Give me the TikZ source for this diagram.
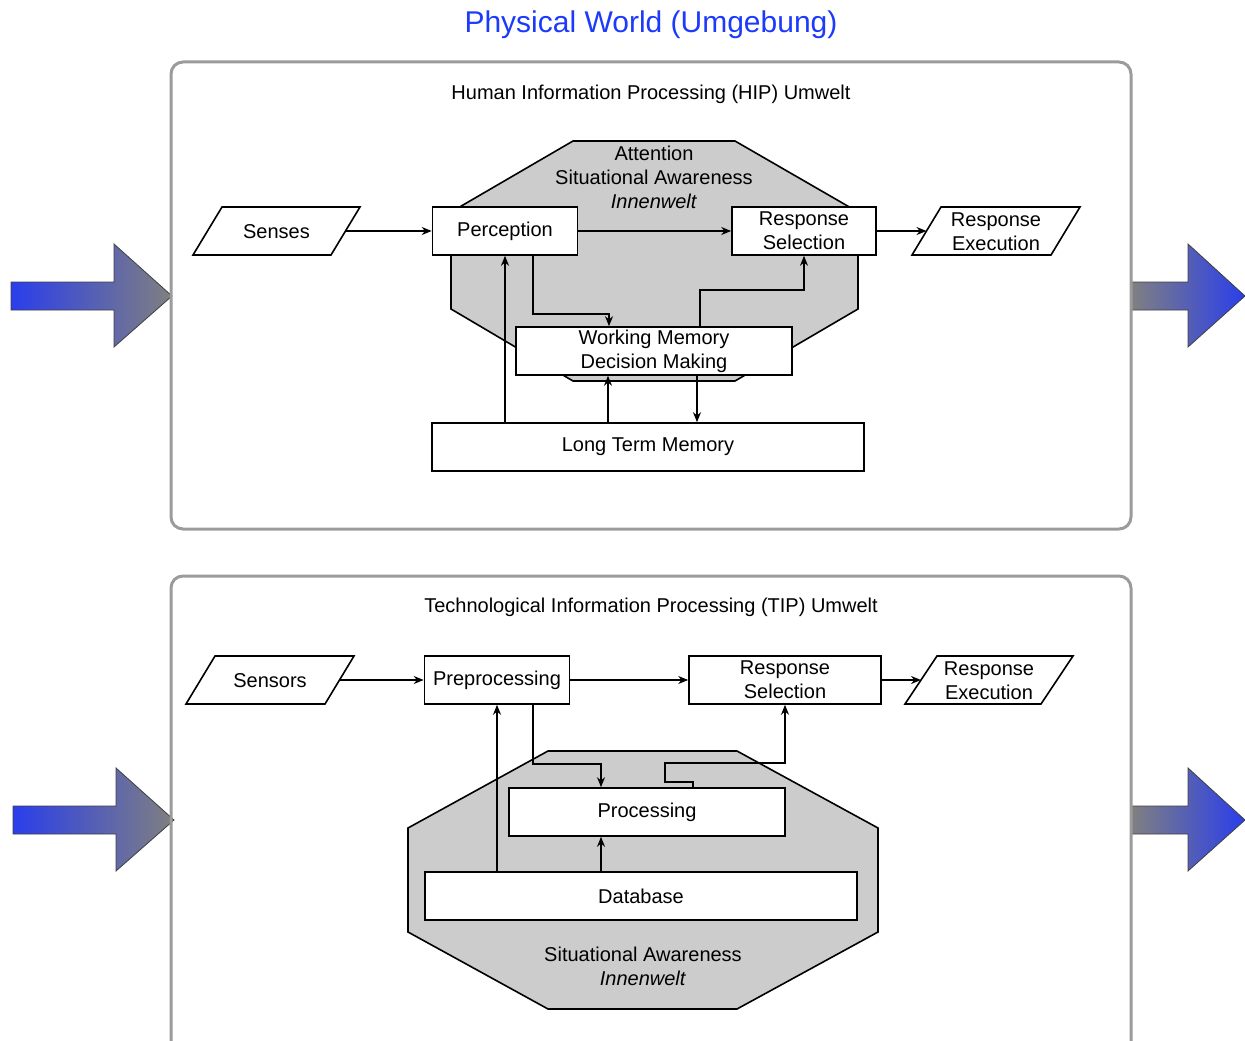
\documentclass[tikz,border=0pt]{standalone}
\usepackage{fontspec}
\setmainfont{Liberation Sans}
\usetikzlibrary{arrows.meta}
\definecolor{titleblue}{RGB}{28,58,250}
\definecolor{framegray}{RGB}{155,155,155}
\definecolor{octgray}{RGB}{204,204,204}
\definecolor{arrowblue}{RGB}{42,62,235}
\definecolor{arrowgray}{RGB}{128,128,128}
\begin{document}
\begin{tikzpicture}[x=1pt,y=-1pt,
  txt/.style={font=\fontsize{20}{24}\selectfont, align=center, inner sep=0pt},
  box/.style={txt, draw=black, line width=1.6pt, fill=white},
  conn/.style={line width=1.6pt, -{Stealth[length=10pt,width=8pt]}},
  frame/.style={draw=framegray, line width=3pt, rounded corners=12pt},
  oct/.style={draw=black, line width=1.6pt, fill=octgray},
  para/.style={draw=black, line width=1.6pt, fill=white},
  bigarrow/.style={draw=black!75, line width=0.8pt}]
\useasboundingbox (0,0) rectangle (1245,1041);
\clip (0,0) rectangle (1245,1041);

% big block arrows
\shadedraw[bigarrow, left color=arrowblue, right color=arrowgray]
  (11,282) -- (114,282) -- (114,244) -- (172,296) -- (114,347) -- (114,310) -- (11,310) -- cycle;
\shadedraw[bigarrow, left color=arrowgray, right color=arrowblue]
  (1131,282) -- (1188,282) -- (1188,244) -- (1245,296) -- (1188,347) -- (1188,310) -- (1131,310) -- cycle;
\shadedraw[bigarrow, left color=arrowblue, right color=arrowgray]
  (13,806) -- (116,806) -- (116,768) -- (174,820) -- (116,871) -- (116,834) -- (13,834) -- cycle;
\shadedraw[bigarrow, left color=arrowgray, right color=arrowblue]
  (1131,806) -- (1188,806) -- (1188,768) -- (1245,820) -- (1188,871) -- (1188,834) -- (1131,834) -- cycle;

% frames
\draw[frame] (171,62) rectangle (1131,529);
\draw[frame] (171,576) rectangle (1131,1080);

% titles
\node[inner sep=0pt, text=titleblue, font=\fontsize{30}{36}\selectfont] (title) at (651,25) {Physical World (Umgebung)};
\node[txt] (hiptitle) at (651,94) {Human Information Processing (HIP) Umwelt};
\node[txt] (tiptitle) at (651,607) {Technological Information Processing (TIP) Umwelt};

% ---------- HIP ----------
\draw[oct] (573,141) -- (735,141) -- (858,212) -- (858,309) -- (735,381) -- (573,381) -- (451,309) -- (451,212) -- cycle;
\node[txt] (hipsa) at (654,177) {Attention\\Situational Awareness\\\textit{Innenwelt}};

\draw[para] (222,207) -- (360,207) -- (331,255) -- (193,255) -- cycle;
\node[txt] (senses) at (276.5,232) {Senses};
\coordinate (sensesR) at (345.5,231);

\node[box, minimum width=145pt, minimum height=48pt] (perc) at (505,231) {Perception};
\node[box, minimum width=144pt, minimum height=48pt] (rs) at (804,231) {Response\\Selection};

\draw[para] (941,207) -- (1080,207) -- (1051,255) -- (912,255) -- cycle;
\node[txt] (re) at (996,232) {Response\\Execution};
\coordinate (reL) at (926.5,231);

\node[box, minimum width=276pt, minimum height=48pt] (wm) at (654,351) {Working Memory\\Decision Making};
\node[box, minimum width=432pt, minimum height=48pt] (ltm) at (648,447) {Long Term Memory};

\draw[conn] (sensesR) -- (perc.west);
\draw[conn] (perc.east) -- (rs.west);
\draw[conn] (rs.east) -- (reL);
\draw[conn] ([xshift=28pt]perc.south) -- ++(0,58) -| ([xshift=-45pt]wm.north);
\draw[conn] ([xshift=46pt]wm.north) -- ++(0,-36) -| (rs.south);
\draw[conn] ([xshift=-143pt]ltm.north) -- (perc.south);
\draw[conn] ([xshift=-40pt]ltm.north) -- ([xshift=-46pt]wm.south);
\draw[conn] ([xshift=43pt]wm.south) -- ([xshift=49pt]ltm.north);

% ---------- TIP ----------
\draw[oct] (548,751) -- (737,751) -- (878,828) -- (878,932) -- (737,1009) -- (548,1009) -- (408,932) -- (408,828) -- cycle;
\node[txt] (tipsa) at (643,966) {Situational Awareness\\\textit{Innenwelt}};

\draw[para] (215,656) -- (354,656) -- (325,704) -- (186,704) -- cycle;
\node[txt] (sensors) at (270,681) {Sensors};
\coordinate (sensorsR) at (339.5,680);

\node[box, minimum width=145pt, minimum height=48pt] (pre) at (497,680) {Preprocessing};
\node[box, minimum width=192pt, minimum height=48pt] (rs2) at (785,680) {Response\\Selection};

\draw[para] (937,656) -- (1073,656) -- (1041,704) -- (905,704) -- cycle;
\node[txt] (re2) at (989,681) {Response\\Execution};
\coordinate (re2L) at (921,680);

\node[box, minimum width=276pt, minimum height=48pt] (proc) at (647,812) {Processing};
\node[box, minimum width=432pt, minimum height=48pt] (db) at (641,896) {Database};

\draw[conn] (sensorsR) -- (pre.west);
\draw[conn] (pre.east) -- (rs2.west);
\draw[conn] (rs2.east) -- (re2L);
\draw[conn] ([xshift=36pt]pre.south) -- ++(0,59) -| ([xshift=-46pt]proc.north);
\draw[conn] ([xshift=46pt]proc.north) -- ++(0,-5) -- ++(-28,0) -- ++(0,-19) -| (rs2.south);
\draw[conn] ([xshift=-144pt]db.north) -- (pre.south);
\draw[conn] ([xshift=-40pt]db.north) -- ([xshift=-46pt]proc.south);
\end{tikzpicture}
\end{document}
